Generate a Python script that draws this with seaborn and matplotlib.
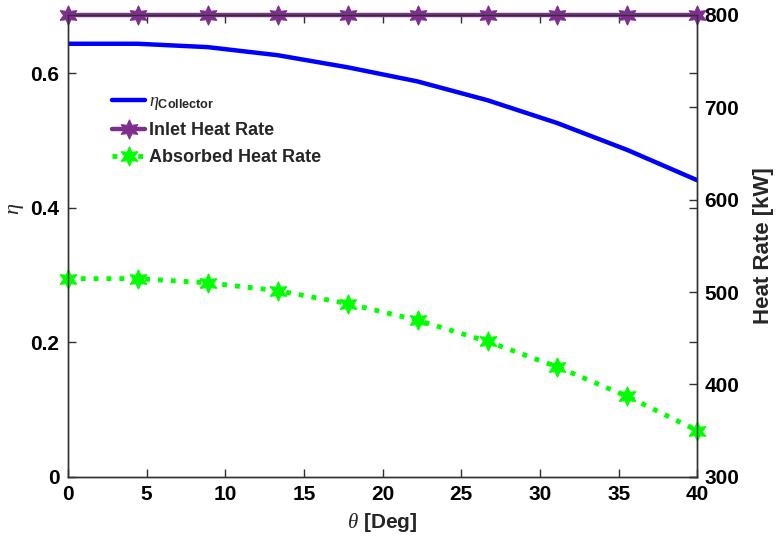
import numpy as np
import matplotlib
matplotlib.use("Agg")
import matplotlib.pyplot as plt
import seaborn as sb

### dati
theta = [0, 4.44, 8.89, 13.33, 17.78, 22.22, 26.67, 31.11, 35.56, 40]
eta_collector = [0.644, 0.644, 0.639, 0.627, 0.609, 0.588, 0.560, 0.526, 0.486, 0.441]
inlet_heat = [800, 800, 800, 800, 800, 800, 800, 800, 800, 800]
absorbed_heat = [514.5, 514.5, 510, 501.5, 487.5, 469.5, 446.5, 419, 387, 350]

sb.set_style("ticks")
plt.rcParams['font.family'] = ['Liberation Sans', 'DejaVu Sans']
plt.rcParams['mathtext.fontset'] = 'custom'
plt.rcParams['mathtext.rm'] = 'Liberation Sans'
plt.rcParams['mathtext.bf'] = 'Liberation Sans:bold'
plt.rcParams['mathtext.it'] = 'Liberation Serif:italic'

fig = plt.figure(figsize=(7.8, 5.5), dpi=100)
ax = fig.add_axes([0.087, 0.133, 0.807, 0.840])
ax2 = ax.twinx()

star = (6, 1, 0)

sb.lineplot(x=theta, y=eta_collector, ax=ax, color="#0000ff", linewidth=3.2,
            label=r'$\eta_{\mathbf{Collector}}$', legend=False)

sb.lineplot(x=theta, y=inlet_heat, ax=ax2, color="#7e2f8e", linewidth=3.2,
            marker=star, markersize=14, markeredgecolor="#7e2f8e",
            label="Inlet Heat Rate", legend=False, clip_on=False)
sb.lineplot(x=theta, y=absorbed_heat, ax=ax2, color="#00ff00", linewidth=3.5,
            linestyle=":", marker=star, markersize=14, markeredgecolor="#00ff00",
            label="Absorbed Heat Rate", legend=False, clip_on=False)

ax.set_xlim(0, 40)
ax.set_ylim(0, 0.687)
ax2.set_ylim(300, 800)
ax.set_xticks(np.arange(0, 41, 5))
ax.set_yticks([0, 0.2, 0.4, 0.6])
ax.set_yticklabels(["0", "0.2", "0.4", "0.6"])
ax2.set_yticks([300, 400, 500, 600, 700, 800])

for a in (ax, ax2):
    for s in a.spines.values():
        s.set_color("#303030")
        s.set_linewidth(1.0)
ax.tick_params(direction="in", length=6, width=1, top=True, right=True,
               labelsize=15, colors="#303030", labelcolor="black", pad=6)
ax2.tick_params(direction="in", length=6, width=1, labelsize=15,
                colors="#303030", labelcolor="black", pad=5)
for lab in ax.get_xticklabels() + ax.get_yticklabels() + ax2.get_yticklabels():
    lab.set_fontweight("bold")

ax.set_xlabel(r'$\theta$ [Deg]', fontsize=15, fontweight="bold", labelpad=5)
ax.set_ylabel(r'$\eta$', fontsize=16)
ax.yaxis.set_label_coords(-0.066, 0.58)
ax2.set_ylabel("Heat Rate [kW]", fontsize=16, fontweight="bold", labelpad=10)

h1, l1 = ax.get_legend_handles_labels()
h2, l2 = ax2.get_legend_handles_labels()
leg = ax2.legend(h1 + h2, l1 + l2, loc="upper left", bbox_to_anchor=(0.045, 0.865),
                 frameon=False, handlelength=1.8, handletextpad=0.2, labelspacing=0.55,
                 prop={"weight": "bold", "size": 13})

plt.savefig("out.png", dpi=100)
